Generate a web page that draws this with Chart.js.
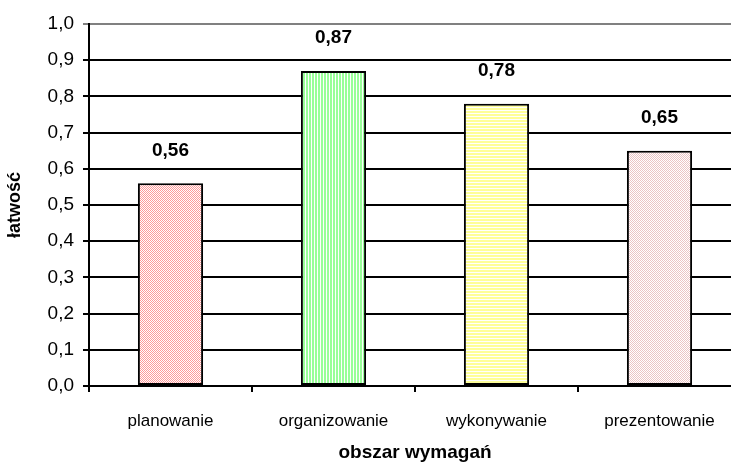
<!DOCTYPE html>
<html>
<head>
<meta charset="utf-8">
<script src="https://cdn.jsdelivr.net/npm/chart.js@4"></script>
<style>
    html, body { margin: 0; padding: 0; background: #fff; overflow: hidden; }
    #wrap { width: 745px; height: 465px; }
</style>
</head>
<body>
<div id="wrap"><canvas id="wykres"></canvas></div>
<script>
// dane z wykresu
const obszary = ['planowanie', 'organizowanie', 'wykonywanie', 'prezentowanie'];
const latwosc = [0.56, 0.87, 0.78, 0.65];
const yTicks = [0, 0.1, 0.2, 0.3, 0.4, 0.5, 0.6, 0.7, 0.8, 0.9, 1.0];

const czcionka = "'Liberation Sans', Arial, sans-serif";

// wzorki wypełnienia słupków (kafelek 6x6, kolor albo biały)
function wzorek(kolor, czyKolor) {
    let c = document.createElement('canvas');
    c.width = 6;
    c.height = 6;
    let ctx = c.getContext('2d');
    ctx.fillStyle = '#ffffff';
    ctx.fillRect(0, 0, 6, 6);
    ctx.fillStyle = kolor;
    for (let x = 0; x < 6; x++) {
        for (let y = 0; y < 6; y++) {
            if (czyKolor(x, y)) {
                ctx.fillRect(x, y, 1, 1);
            }
        }
    }
    return document.getElementById('wykres').getContext('2d').createPattern(c, 'repeat');
}

let wzorki = [
    wzorek('#ff9a9a', (x, y) => (x + y) % 2 == 0),
    wzorek('#99ff99', (x, y) => x % 3 != 2),
    wzorek('#ffff99', (x, y) => y % 3 != 2),
    wzorek('#ecc4c4', (x, y) => (x + y) % 2 == 0)
];

// etykiety wartości nad słupkami
const etykiety = {
    id: 'etykiety',
    afterDatasetsDraw(chart) {
        let ctx = chart.ctx;
        let meta = chart.getDatasetMeta(0);
        ctx.save();
        ctx.font = 'bold 19px ' + czcionka;
        ctx.fillStyle = '#000';
        ctx.textAlign = 'center';
        ctx.textBaseline = 'middle';
        meta.data.forEach(function(bar, i) {
            ctx.fillText(latwosc[i].toFixed(2).replace('.', ','), bar.x, bar.y - 33);
        });
        ctx.restore();
    }
};

let wykres = new Chart(document.getElementById('wykres'), {
    type: 'bar',
    data: {
        labels: obszary,
        datasets: [{
            label: 'łatwość',
            data: latwosc,
            backgroundColor: wzorki,
            borderColor: '#000',
            borderWidth: 2,
            borderSkipped: false,
            barPercentage: 0.4,
            categoryPercentage: 1.0
        }]
    },
    options: {
        responsive: true,
        maintainAspectRatio: false,
        animation: false,
        layout: {
            padding: { top: 24, right: 4, left: 0, bottom: 0 }
        },
        plugins: {
            legend: { display: false },
            tooltip: { enabled: false }
        },
        scales: {
            x: {
                grid: {
                    offset: true,
                    drawOnChartArea: false,
                    drawTicks: true,
                    tickLength: 6,
                    color: '#000',
                    lineWidth: 2
                },
                border: { color: '#000', width: 2 },
                ticks: {
                    color: '#000',
                    font: { family: czcionka, size: 17 },
                    padding: 19
                },
                title: {
                    display: true,
                    text: 'obszar wymagań',
                    color: '#000',
                    font: { family: czcionka, size: 19, weight: 'bold' },
                    padding: { top: 6, bottom: 1 }
                },
                afterFit: function(scale) {
                    scale.height = 79;
                }
            },
            y: {
                min: 0,
                max: 1,
                afterBuildTicks: function(scale) {
                    scale.ticks = yTicks.map(v => ({ value: v }));
                },
                grid: {
                    color: function(c) {
                        return c.tick && c.tick.value > 0.99 ? '#808080' : '#000';
                    },
                    lineWidth: 2,
                    tickLength: 6
                },
                border: { color: '#000', width: 2 },
                ticks: {
                    color: '#000',
                    font: { family: czcionka, size: 19 },
                    padding: 9,
                    callback: function(v) {
                        return v.toFixed(1).replace('.', ',');
                    }
                },
                title: {
                    display: true,
                    text: 'łatwość',
                    color: '#000',
                    font: { family: czcionka, size: 18, weight: 'bold' },
                    padding: { top: 4, bottom: 6 }
                },
                afterFit: function(scale) {
                    scale.width = 89;
                }
            }
        }
    },
    plugins: [etykiety]
});
</script>
</body>
</html>
